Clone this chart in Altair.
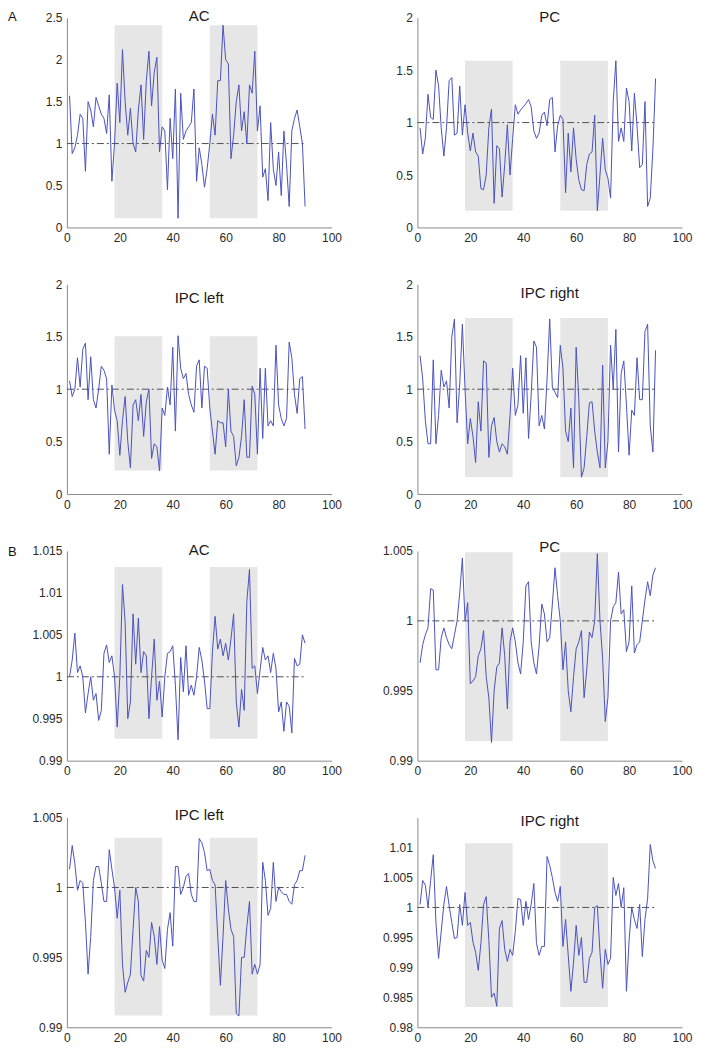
import altair as alt
import pandas as pd

X_VALS = list(range(1, 91))
BLOCK_START = [18, 54]
BLOCK_END = [36, 72]
REF_LEVEL = 1.0
REF_END = 90
X_TICKS = [0, 20, 40, 60, 80, 100]

A_AC = [1.57, 0.88, 0.95, 1.10, 1.35, 1.30, 0.67, 1.50, 1.40, 1.20,
        1.55, 1.45, 1.35, 1.30, 1.12, 1.58, 0.55, 1.00, 1.72, 1.25,
        2.12, 1.50, 1.10, 1.42, 1.00, 0.90, 1.40, 1.70, 1.05, 1.75,
        2.10, 1.45, 1.85, 2.03, 0.90, 1.20, 1.15, 0.45, 1.30, 0.82,
        1.65, 0.11, 1.60, 1.05, 1.15, 1.20, 1.25, 1.65, 0.55, 0.95,
        0.75, 0.48, 0.70, 1.00, 1.35, 1.10, 1.75, 1.75, 2.41, 2.00,
        1.95, 0.82, 1.10, 1.50, 1.70, 1.15, 1.38, 1.00, 1.70, 1.60,
        2.10, 1.15, 1.45, 0.60, 0.70, 0.32, 1.25, 0.70, 0.50, 0.90,
        0.38, 1.15, 0.75, 0.25, 1.15, 1.30, 1.40, 1.20, 1.00, 0.25]

A_PC = [0.95, 0.70, 0.85, 1.27, 1.05, 1.03, 1.50, 1.35, 0.95, 0.68,
        0.95, 1.40, 1.43, 0.88, 0.90, 1.35, 0.88, 1.17, 0.90, 0.73,
        0.90, 0.72, 0.68, 0.37, 0.36, 0.50, 0.95, 1.13, 0.23, 0.78,
        0.75, 0.29, 0.60, 0.98, 0.50, 0.85, 1.17, 1.08, 1.12, 1.15,
        1.18, 1.22, 1.15, 0.92, 0.85, 0.90, 1.07, 1.10, 0.97, 1.22,
        1.24, 0.72, 0.97, 1.07, 1.03, 0.33, 0.90, 0.53, 0.95, 0.65,
        0.45, 0.36, 0.35, 0.60, 0.70, 0.72, 1.07, 0.16, 0.50, 0.85,
        0.55, 0.47, 0.28, 1.20, 1.59, 0.82, 0.95, 0.82, 1.33, 1.20,
        0.73, 1.28, 0.97, 0.57, 0.60, 1.20, 0.20, 0.28, 0.75, 1.42]

A_IPC_LEFT = [1.08, 0.93, 1.00, 1.30, 1.02, 1.38, 1.44, 0.90, 1.31, 0.90,
              0.82, 1.00, 1.22, 1.18, 1.10, 0.38, 1.04, 0.80, 0.70, 0.37,
              0.70, 0.93, 0.50, 0.25, 0.85, 0.90, 0.70, 0.95, 0.55, 0.88,
              1.00, 0.34, 0.48, 0.45, 0.22, 0.82, 0.75, 1.02, 0.85, 1.40,
              0.60, 1.51, 1.20, 1.10, 1.15, 0.95, 0.85, 0.78, 1.22, 1.28,
              0.82, 1.22, 1.20, 0.82, 0.60, 0.38, 0.70, 0.68, 0.68, 0.45,
              1.00, 0.60, 0.55, 0.27, 0.35, 0.55, 0.90, 0.35, 0.35, 1.03,
              0.95, 0.38, 1.20, 0.53, 1.20, 0.65, 0.70, 0.65, 1.42, 0.85,
              0.72, 0.65, 0.72, 1.45, 1.30, 0.95, 0.77, 1.10, 1.12, 0.62]

A_IPC_RIGHT = [1.32, 1.10, 0.70, 0.48, 0.48, 1.28, 0.48, 0.75, 1.18, 1.02,
               1.08, 0.82, 1.50, 1.67, 0.68, 1.05, 1.62, 1.00, 0.48, 0.72,
               0.55, 0.30, 0.88, 0.60, 1.27, 1.25, 0.35, 0.65, 0.73, 0.50,
               0.40, 0.48, 0.45, 0.38, 0.75, 1.20, 0.75, 0.85, 1.32, 0.77,
               1.30, 0.53, 0.95, 1.46, 1.40, 0.65, 0.75, 0.62, 1.10, 1.67,
               1.02, 0.97, 0.92, 1.42, 1.20, 0.60, 0.50, 0.82, 0.25, 1.40,
               0.90, 0.16, 0.25, 0.55, 0.87, 0.88, 0.60, 0.40, 0.25, 1.23,
               0.25, 0.50, 1.42, 1.00, 1.57, 0.40, 1.15, 1.27, 0.85, 0.37,
               0.80, 0.75, 1.30, 0.90, 0.90, 1.55, 1.62, 0.65, 0.40, 1.37]

B_AC = [1.0000, 1.0020, 1.0052, 1.0005, 1.0013, 1.0000, 0.9957, 0.9980, 1.0000, 0.9972,
        0.9980, 0.9948, 0.9960, 1.0028, 1.0038, 1.0017, 1.0025, 1.0000, 0.9940, 1.0000,
        1.0110, 1.0065, 0.9950, 0.9970, 1.0075, 1.0015, 1.0070, 1.0005, 1.0030, 1.0025,
        0.9950, 1.0000, 1.0045, 0.9972, 0.9995, 0.9952, 1.0000, 1.0028, 1.0030, 1.0037,
        0.9990, 0.9925, 1.0023, 0.9982, 1.0037, 0.9978, 0.9990, 0.9978, 1.0000, 1.0035,
        1.0020, 0.9995, 0.9962, 0.9962, 1.0030, 1.0072, 1.0033, 1.0045, 1.0025, 1.0040,
        1.0020, 1.0045, 1.0075, 0.9970, 0.9940, 0.9985, 0.9960, 1.0090, 1.0128, 1.0010,
        1.0013, 0.9980, 1.0008, 1.0035, 1.0020, 1.0025, 1.0005, 1.0028, 1.0010, 0.9958,
        0.9970, 0.9935, 0.9970, 0.9965, 0.9933, 1.0022, 1.0013, 1.0015, 1.0050, 1.0040]

B_PC = [0.9970, 0.9983, 0.9990, 0.9995, 1.0023, 1.0022, 0.9965, 0.9965, 0.9988, 0.9995,
        0.9988, 0.9983, 0.9980, 0.9990, 1.0000, 1.0020, 1.0045, 1.0000, 1.0013, 0.9955,
        0.9957, 0.9960, 0.9975, 0.9980, 0.9993, 0.9960, 0.9945, 0.9913, 0.9950, 0.9967,
        0.9970, 0.9995, 0.9975, 0.9937, 0.9985, 0.9995, 0.9985, 0.9970, 0.9962, 0.9985,
        1.0025, 1.0028, 0.9985, 0.9970, 0.9962, 0.9982, 1.0012, 1.0005, 0.9985, 0.9988,
        1.0012, 1.0038, 1.0018, 1.0000, 0.9965, 0.9985, 0.9950, 0.9935, 0.9960, 0.9980,
        0.9985, 0.9993, 0.9945, 0.9965, 0.9992, 0.9988, 1.0000, 1.0048, 1.0000, 0.9973,
        0.9928, 0.9945, 1.0000, 1.0010, 1.0013, 1.0035, 1.0005, 1.0008, 0.9978, 0.9985,
        1.0025, 0.9977, 0.9983, 0.9985, 1.0000, 1.0015, 1.0028, 1.0018, 1.0033, 1.0038]

B_IPC_LEFT = [1.0013, 1.0030, 1.0017, 0.9998, 1.0005, 1.0003, 0.9975, 0.9938, 0.9965, 1.0005,
              1.0015, 1.0015, 1.0003, 0.9990, 0.9990, 1.0027, 1.0013, 1.0000, 0.9978, 0.9998,
              0.9945, 0.9925, 0.9932, 0.9938, 0.9970, 1.0000, 0.9990, 0.9937, 0.9933, 0.9955,
              0.9950, 0.9975, 0.9965, 0.9945, 0.9972, 0.9948, 0.9942, 0.9970, 0.9982, 0.9958,
              1.0015, 1.0015, 0.9995, 1.0000, 1.0008, 1.0010, 0.9995, 0.9990, 0.9990, 1.0035,
              1.0032, 1.0025, 1.0012, 1.0013, 1.0005, 1.0002, 0.9965, 0.9930, 0.9965, 1.0005,
              0.9985, 0.9970, 0.9965, 0.9910, 0.9908, 0.9950, 0.9950, 0.9972, 0.9990, 0.9938,
              0.9945, 0.9938, 0.9945, 1.0018, 1.0005, 0.9980, 0.9985, 1.0018, 0.9990, 1.0000,
              0.9997, 0.9995, 0.9995, 0.9990, 0.9988, 1.0002, 1.0005, 1.0012, 1.0012, 1.0023]

B_IPC_RIGHT = [1.0005, 1.0045, 1.0037, 1.0000, 1.0045, 1.0088, 0.9975, 0.9915, 0.9960, 1.0005,
               1.0035, 1.0003, 0.9975, 0.9948, 0.9950, 1.0005, 0.9970, 1.0025, 0.9970, 0.9975,
               0.9942, 0.9925, 0.9895, 0.9940, 1.0005, 1.0018, 0.9945, 0.9850, 0.9857, 0.9835,
               0.9965, 0.9978, 0.9930, 0.9910, 0.9930, 0.9920, 0.9960, 1.0015, 1.0013, 0.9970,
               1.0010, 0.9980, 1.0005, 1.0040, 0.9940, 0.9920, 0.9935, 0.9935, 1.0085, 1.0070,
               1.0050, 1.0025, 1.0010, 1.0035, 0.9935, 0.9980, 0.9920, 0.9860, 0.9908, 0.9970,
               0.9920, 0.9950, 0.9875, 0.9875, 0.9915, 0.9925, 1.0000, 1.0003, 0.9925, 0.9865,
               0.9930, 0.9905, 0.9915, 1.0050, 1.0020, 1.0040, 1.0000, 1.0033, 0.9860, 0.9945,
               1.0000, 0.9980, 0.9965, 1.0005, 0.9918, 0.9980, 1.0015, 1.0105, 1.0078, 1.0065]

# shaded band vertical extents (low, high) per panel
BAND_A_AC = [0.11, 2.41]
BAND_A_PC = [0.16, 1.59]
BAND_A_IPCL = [0.225, 1.505]
BAND_A_IPCR = [0.163, 1.68]
BAND_B_AC = [0.9926, 1.0131]
BAND_B_PC = [0.9914, 1.0049]
BAND_B_IPCL = [0.99085, 1.00355]
BAND_B_IPCR = [0.9834, 1.0107]

W, H = 265, 210
FONT = "Liberation Sans"
LINE_COLOR = "#4a52bd"


def panel(values, ydom, yticks, band, title, toff, letter=None, letter_y=0):
    xsc = alt.Scale(domain=[0, 100], nice=False, zero=False)
    ysc = alt.Scale(domain=ydom, nice=False, zero=False)
    axis_style = dict(grid=False, ticks=False, domainColor="#8a8a8a", domainWidth=1,
                      labelColor="#2a2a2a", labelFont=FONT, labelFontSize=12,
                      labelPadding=5, labelOverlap=False, labelSeparation=0, title=None)
    xaxis = alt.Axis(values=X_TICKS, format="d", labelFlush=False, **axis_style)
    yaxis = alt.Axis(values=yticks, format=".4~f", tickCount=len(yticks), **axis_style)

    blocks = pd.DataFrame({"x0": BLOCK_START, "x1": BLOCK_END,
                           "y0": [band[0]] * len(BLOCK_START),
                           "y1": [band[1]] * len(BLOCK_START)})
    rect = alt.Chart(blocks).mark_rect(color="#e6e6e6").encode(
        x=alt.X("x0:Q", scale=xsc, axis=xaxis, title=None),
        x2="x1:Q",
        y=alt.Y("y0:Q", scale=ysc, axis=yaxis, title=None),
        y2="y1:Q",
    )
    ref = alt.Chart(pd.DataFrame({"a": [0], "b": [REF_END], "lvl": [REF_LEVEL]})).mark_rule(
        color="#505050", strokeWidth=1, strokeDash=[7, 3, 2, 3]
    ).encode(
        x=alt.X("a:Q", axis=xaxis, title=None), x2="b:Q",
        y=alt.Y("lvl:Q", axis=yaxis, title=None)
    )
    df = pd.DataFrame({"x": X_VALS, "y": values})
    line = alt.Chart(df).mark_line(color=LINE_COLOR, strokeWidth=1, clip=True).encode(
        x=alt.X("x:Q", axis=xaxis, title=None), y=alt.Y("y:Q", axis=yaxis, title=None)
    )
    layers = [rect, ref, line]
    if letter:
        lt = alt.Chart(pd.DataFrame({"t": [letter]})).mark_text(
            font=FONT, fontSize=13, align="left", baseline="middle", color="#111"
        ).encode(text="t:N", x=alt.value(-59), y=alt.value(letter_y))
        layers.append(lt)
    return alt.layer(*layers).properties(
        width=W, height=H,
        title=alt.TitleParams(title, offset=toff, fontSize=15, font=FONT,
                              fontWeight="normal", color="#1a1a1a", anchor="middle"),
    )


t_a = [0, 0.5, 1, 1.5, 2, 2.5]
t_a2 = [0, 0.5, 1, 1.5, 2]
t_bac = [0.99, 0.995, 1, 1.005, 1.01, 1.015]
t_bpc = [0.99, 0.995, 1, 1.005]
t_bir = [0.98, 0.985, 0.99, 0.995, 1, 1.005, 1.01]

p1 = panel(A_AC, [0, 2.5], t_a, BAND_A_AC, "AC", -13, "A", -1)
p2 = panel(A_PC, [0, 2], t_a2, BAND_A_PC, "PC", -13)
p3 = panel(A_IPC_LEFT, [0, 2], t_a2, BAND_A_IPCL, "IPC left", -28)
p4 = panel(A_IPC_RIGHT, [0, 2], t_a2, BAND_A_IPCR, "IPC right", -23)
p5 = panel(B_AC, [0.99, 1.015], t_bac, BAND_B_AC, "AC", -13, "B", 1)
p6 = panel(B_PC, [0.99, 1.005], t_bpc, BAND_B_PC, "PC", -10)
p7 = panel(B_IPC_LEFT, [0.99, 1.005], t_bpc, BAND_B_IPCL, "IPC left", -11)
p8 = panel(B_IPC_RIGHT, [0.98, 1.015], t_bir, BAND_B_IPCR, "IPC right", -11)

chart = alt.concat(
    p1, p2, p3, p4, p5, p6, p7, p8,
    columns=2,
    spacing=alt.RowColnumber(row=57, column=86),
    bounds="flush",
).properties(padding=0).configure(background="white").configure_view(
    stroke=None
).configure_axis(labelOverlap=False)

chart.save("out.html", embed_options={"renderer": "svg", "actions": False})
